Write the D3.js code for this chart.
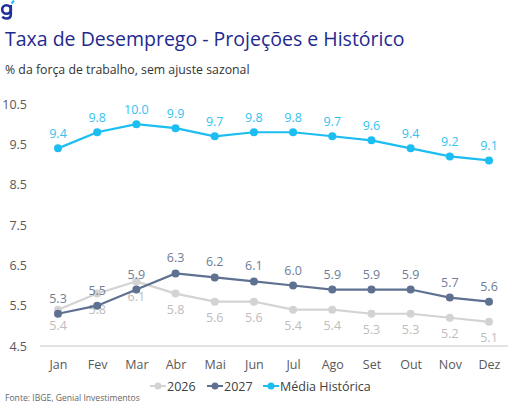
<!DOCTYPE html>
<meta charset="utf-8">
<style>
body { margin: 0; background: #fff; }
text { font-family: "Open Sans", sans-serif; }
</style>
<svg width="517" height="407"></svg>
<script src="https://d3js.org/d3.v7.min.js"></script>
<script>
var months = ["Jan","Fev","Mar","Abr","Mai","Jun","Jul","Ago","Set","Out","Nov","Dez"];
var y2026 = [5.4, 5.8, 6.1, 5.8, 5.6, 5.6, 5.4, 5.4, 5.3, 5.3, 5.2, 5.1];
var y2027 = [5.3, 5.5, 5.9, 6.3, 6.2, 6.1, 6.0, 5.9, 5.9, 5.9, 5.7, 5.6];
var media = [9.4, 9.8, 10.0, 9.9, 9.7, 9.8, 9.8, 9.7, 9.6, 9.4, 9.2, 9.1];
var yTicks = [4.5, 5.5, 6.5, 7.5, 8.5, 9.5, 10.5];

var series = [
  {name: "2026", values: y2026, color: "#d3d3d3", label: "#bdbdbd", dy: 20},
  {name: "2027", values: y2027, color: "#5f7191", label: "#6f7d96", dy: -11},
  {name: "Média Histórica", values: media, color: "#1cbdf0", label: "#33c3f2", dy: -10}
];

var svg = d3.select("svg");

// logo (drawn as shapes)
var logo = svg.append("g").attr("fill", "none").attr("stroke", "#1f2f9e").attr("stroke-width", 2.6);
logo.append("circle").attr("cx", 6.5).attr("cy", 9.5).attr("r", 4.3);
logo.append("path").attr("d", "M10.8,5 L10.8,14.5 Q10.8,18.5 6.5,18.5 Q3.5,18.5 2.5,16.5");
svg.append("path").attr("d", "M11.5,3.5 L14,0.5").attr("stroke", "#1cbdf0").attr("stroke-width", 2);

svg.append("text").attr("x", 5).attr("y", 46).attr("font-size", 19.5).attr("fill", "#1f2a8f")
  .text("Taxa de Desemprego - Projeções e Histórico");
svg.append("text").attr("x", 5).attr("y", 74).attr("font-size", 12.3).attr("fill", "#333")
  .text("% da força de trabalho, sem ajuste sazonal");

var x = d3.scalePoint().domain(months).range([58, 489]);
var y = d3.scaleLinear().domain([4.5, 10.5]).range([346, 104]);

svg.append("line").attr("x1", 40).attr("x2", 508).attr("y1", y(4.5)).attr("y2", y(4.5))
  .attr("stroke", "#d9d9d9").attr("stroke-width", 1.5);

var yAxis = svg.append("g").attr("transform", "translate(27,0)")
  .call(d3.axisLeft(y).tickValues(yTicks).tickFormat(d3.format(".1f")).tickSize(0).tickPadding(0));
yAxis.select(".domain").remove();
yAxis.selectAll("text").attr("font-size", 12.5).attr("fill", "#595959").attr("font-family", "Open Sans, sans-serif");

var xAxis = svg.append("g").attr("transform", "translate(0," + 360 + ")")
  .call(d3.axisBottom(x).tickSize(0).tickPadding(0));
xAxis.select(".domain").remove();
xAxis.selectAll("text").attr("font-size", 12.5).attr("fill", "#595959").attr("font-family", "Open Sans, sans-serif");

var line = d3.line().x(function(d, i) { return x(months[i]); }).y(function(d) { return y(d); });

series.forEach(function(s) {
  var g = svg.append("g");
  g.append("path").attr("d", line(s.values)).attr("fill", "none")
    .attr("stroke", s.color).attr("stroke-width", 2.2);
  g.selectAll("circle").data(s.values).enter().append("circle")
    .attr("cx", function(d, i) { return x(months[i]); })
    .attr("cy", function(d) { return y(d); })
    .attr("r", 4).attr("fill", s.color);
  g.selectAll("text").data(s.values).enter().append("text")
    .attr("x", function(d, i) { return x(months[i]); })
    .attr("y", function(d) { return y(d) + s.dy; })
    .attr("text-anchor", "middle").attr("font-size", 12.5).attr("fill", s.label)
    .text(function(d) { return d3.format(".1f")(d); });
});

// legend
var legX = [150, 207, 263];
var legend = svg.append("g").attr("transform", "translate(0,386)");
series.forEach(function(s, i) {
  var lg = legend.append("g").attr("transform", "translate(" + legX[i] + ",0)");
  lg.append("line").attr("x1", 0).attr("x2", 16).attr("stroke", s.color).attr("stroke-width", 2);
  lg.append("circle").attr("cx", 8).attr("r", 3.5).attr("fill", s.color);
  lg.append("text").attr("x", 17).attr("y", 4.5).attr("font-size", 12.5).attr("fill", "#404040").text(s.name);
});

svg.append("text").attr("x", 5).attr("y", 401).attr("font-size", 8.6).attr("fill", "#666")
  .text("Fonte: IBGE, Genial Investimentos");
</script>
